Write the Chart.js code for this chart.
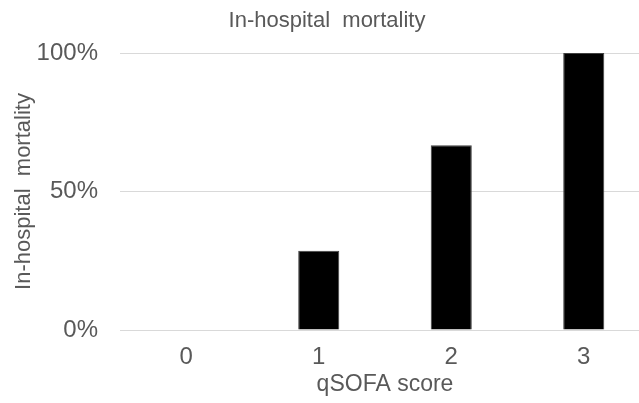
<!DOCTYPE html>
<html>
<head>
<meta charset="utf-8">
<script src="https://cdn.jsdelivr.net/npm/chart.js@4.4.1/dist/chart.umd.min.js"></script>
<style>
    html, body { margin: 0; padding: 0; background: #fff; overflow: hidden; }
    #wrap { width: 650px; height: 403px; }
</style>
</head>
<body>
<div id="wrap"><canvas id="mortalityChart"></canvas></div>
<script>
const scores = ['0', '1', '2', '3'];
const mortality = [0, 28.6, 66.7, 100];
const yTicks = [0, 50, 100];

const textColor = '#595959';
const fontFamily = '"Liberation Sans", Arial, sans-serif';

const ctx = document.getElementById('mortalityChart').getContext('2d');
const chart = new Chart(ctx, {
    type: 'bar',
    data: {
        labels: scores,
        datasets: [{
            label: 'In-hospital mortality',
            data: mortality,
            backgroundColor: '#000000',
            borderColor: '#404040',
            borderWidth: 1,
            barPercentage: 0.31,
            categoryPercentage: 1.0
        }]
    },
    options: {
        responsive: true,
        maintainAspectRatio: false,
        animation: false,
        layout: {
            padding: { left: 4, right: 0, top: 4, bottom: 5 }
        },
        plugins: {
            legend: { display: false },
            tooltip: { enabled: false },
            title: {
                display: true,
                text: 'In-hospital  mortality',
                color: textColor,
                font: { family: fontFamily, size: 22, weight: 'normal' },
                padding: { top: 4, bottom: 18.6 }
            }
        },
        scales: {
            x: {
                grid: { display: false },
                border: { display: false },
                ticks: {
                    color: textColor,
                    font: { family: fontFamily, size: 24 },
                    padding: 5
                },
                title: {
                    display: true,
                    text: 'qSOFA score',
                    color: textColor,
                    font: { family: fontFamily, size: 23 },
                    padding: { top: 0, bottom: 0 }
                },
                // fix the axis band so the plot bottom sits where the reference has it
                afterFit: axis => { axis.height = 68; }
            },
            y: {
                min: 0,
                max: 100,
                afterBuildTicks: axis => {
                    axis.ticks = yTicks.map(v => ({ value: v }));
                },
                grid: {
                    color: '#d9d9d9',
                    lineWidth: 1,
                    drawTicks: false
                },
                border: { display: false },
                ticks: {
                    color: textColor,
                    font: { family: fontFamily, size: 24 },
                    padding: 22,
                    callback: v => v + '%'
                },
                title: {
                    display: true,
                    text: 'In-hospital  mortality',
                    color: textColor,
                    font: { family: fontFamily, size: 22 },
                    padding: { top: 7, bottom: 0 }
                },
                afterFit: axis => { axis.width = 116; }
            }
        }
    }
});
</script>
</body>
</html>
